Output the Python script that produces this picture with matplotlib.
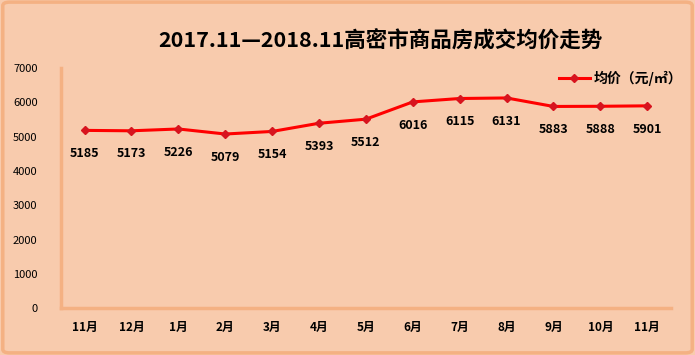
import matplotlib.pyplot as plt
from matplotlib.patches import FancyBboxPatch

plt.rcParams['font.family'] = ['Noto Sans CJK SC', 'DejaVu Sans']

months = ["11月", "12月", "1月", "2月", "3月", "4月", "5月", "6月", "7月", "8月", "9月", "10月", "11月"]
prices = [5185, 5173, 5226, 5079, 5154, 5393, 5512, 6016, 6115, 6131, 5883, 5888, 5901]
yticks = [0, 1000, 2000, 3000, 4000, 5000, 6000, 7000]

bg = "#F8CBAD"
edge = "#F4B183"

fig = plt.figure(figsize=(6.95, 3.55), dpi=100)
fig.patch.set_facecolor(bg)
# outer border
fig.patches.append(FancyBboxPatch((0.004, 0.006), 0.992, 0.988, boxstyle="round,pad=0,rounding_size=0.01",
                                  transform=fig.transFigure, fill=False, edgecolor=edge, linewidth=2.5))

ax = fig.add_axes([0.088, 0.132, 0.877, 0.676])
ax.set_facecolor(bg)
x = list(range(len(months)))
ax.plot(x, prices, color="#FF0000", linewidth=2.2, marker="D", markersize=4.5,
        markerfacecolor="#D7141E", markeredgecolor="#D7141E", label="均价（元/㎡）")
for xi, v in zip(x, prices):
    ax.annotate(str(v), (xi, v), xytext=(0, -12), textcoords="offset points",
                ha="center", va="top", fontsize=9, fontweight="bold", color="black")

ax.set_xlim(-0.5, len(months) - 0.5)
ax.set_ylim(0, 7000)
ax.set_yticks(yticks)
ax.set_xticks(x)
ax.set_xticklabels(months, fontsize=8.5, fontweight="bold")
ax.tick_params(axis="y", length=0, pad=17, labelsize=8)
ax.tick_params(axis="x", length=0, pad=9)
for s in ["top", "right"]:
    ax.spines[s].set_visible(False)
for s in ["left", "bottom"]:
    ax.spines[s].set_color(edge)
    ax.spines[s].set_linewidth(2.5)

leg = ax.legend(loc="upper right", bbox_to_anchor=(1.04, 1.04), frameon=False,
                prop={"size": 10, "weight": "bold"}, handlelength=2.2, handletextpad=0.3)

fig.text(0.547, 0.885, "2017.11—2018.11高密市商品房成交均价走势", ha="center", va="center",
         fontsize=15.5, fontweight="bold", color="black")

fig.savefig("out.png", dpi=100, facecolor=bg)
